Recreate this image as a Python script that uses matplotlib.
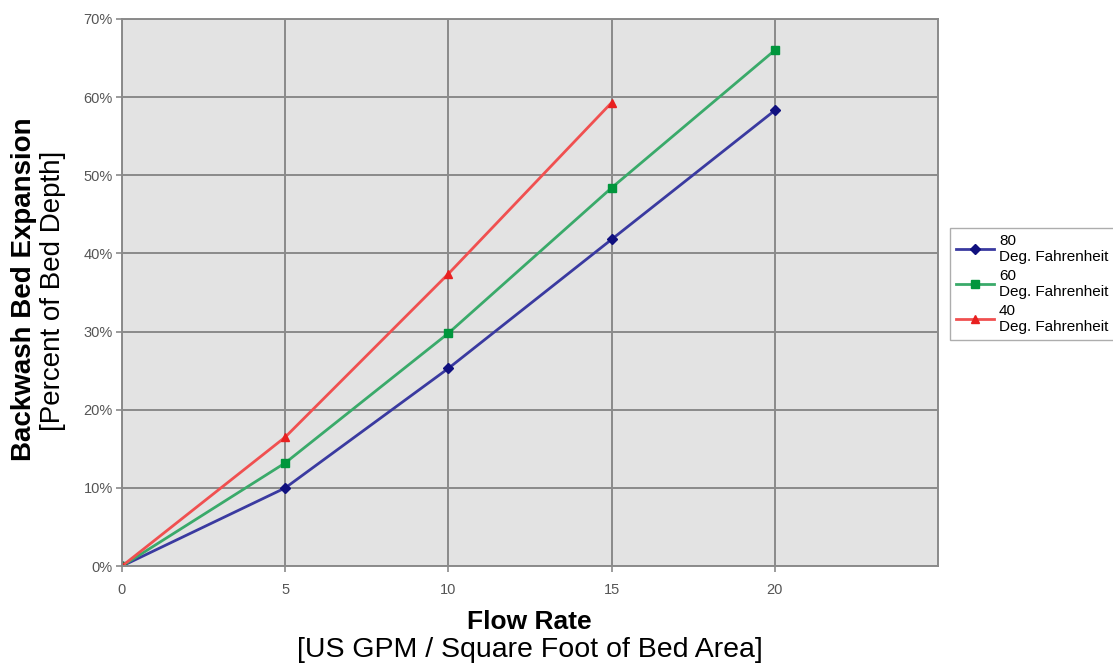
import numpy as np
import matplotlib
matplotlib.use("Agg")
from matplotlib import pyplot as plt
from matplotlib.ticker import FuncFormatter

plt.rcParams['font.family'] = ['Liberation Sans', 'DejaVu Sans']

#############################################################
# Data
#############################################################
flow = [0, 5, 10, 15, 20]
exp80 = [0, 10.0, 25.3, 41.8, 58.3]
exp60 = [0, 13.2, 29.8, 48.4, 66.0]
flow40 = [0, 5, 10, 15]
exp40 = [0, 16.5, 37.4, 59.3]
labels = ["80\nDeg. Fahrenheit", "60\nDeg. Fahrenheit", "40\nDeg. Fahrenheit"]

#############################################################
# Plot
#############################################################
fig = plt.figure(figsize=(11.13, 6.66), dpi=100)
ax = fig.add_axes([0.1096, 0.150, 0.7332, 0.8215])
ax.set_facecolor("#e3e3e3")

ax.plot(flow, exp80, color="#3a3aa0", lw=2, marker="D", ms=5,
        mfc="#10107f", mec="#10107f", label=labels[0])
ax.plot(flow, exp60, color="#3aaa6a", lw=2, marker="s", ms=6,
        mfc="#00963c", mec="#00963c", label=labels[1])
ax.plot(flow40, exp40, color="#f05050", lw=2, marker="^", ms=6,
        mfc="#e82020", mec="#e82020", label=labels[2])

ax.set_xlim(0, 25)
ax.set_ylim(0, 70)
ax.set_xticks([0, 5, 10, 15, 20])
ax.set_yticks(np.arange(0, 71, 10))
ax.yaxis.set_major_formatter(FuncFormatter(lambda v, p: "%d%%" % v))
ax.grid(True, color="#8a8a8a", lw=1.4)
ax.set_axisbelow(True)
for s in ax.spines.values():
    s.set_color("#8a8a8a")
    s.set_linewidth(1.4)
ax.tick_params(axis="both", labelsize=10.5, colors="#8a8a8a", labelcolor="#555555",
               length=4, width=1.2)
ax.tick_params(axis="x", pad=8)
ax.tick_params(axis="y", pad=2.5)

fig.text(0.0216, 0.566, "Backwash Bed Expansion", rotation=90, ha="center", va="center",
         fontsize=20, fontweight="bold")
fig.text(0.0476, 0.564, "[Percent of Bed Depth]", rotation=90, ha="center", va="center",
         fontsize=20)
fig.text(0.476, 0.066, "Flow Rate", ha="center", va="center", fontsize=19, fontweight="bold")
fig.text(0.476, 0.024, "[US GPM / Square Foot of Bed Area]", ha="center", va="center",
         fontsize=20.5)

leg = ax.legend(loc="upper left", bbox_to_anchor=(950 / 1113, 1 - 228 / 666),
                bbox_transform=fig.transFigure, fontsize=11, frameon=True,
                fancybox=False, edgecolor="#999999", handlelength=2.5,
                handletextpad=0.3, borderaxespad=0, labelspacing=0.3)
leg.get_frame().set_linewidth(1.0)

fig.savefig("out.png", dpi=100)
